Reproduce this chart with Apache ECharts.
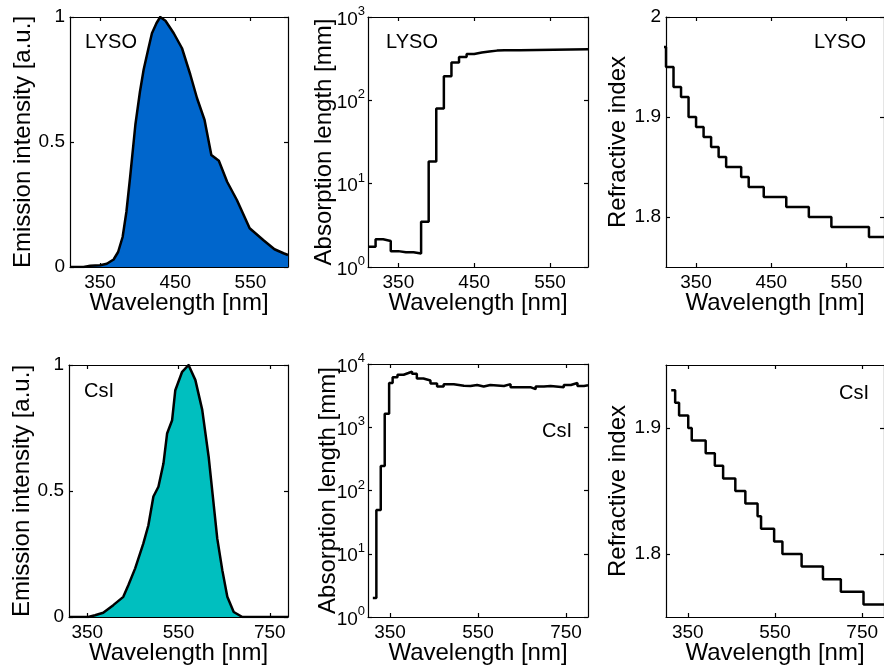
<!DOCTYPE html>
<html>
<head>
<meta charset="utf-8">
<title>Scintillator optical properties</title>
<script src="https://cdn.jsdelivr.net/npm/echarts@6/dist/echarts.min.js"></script>
<style>
  html, body { margin: 0; padding: 0; background: #fff; }
  #chart { width: 884px; height: 672px; }
</style>
</head>
<body>
<div id="chart"></div>
<script>
// ---- LYSO ----
const lysoEmWl  = [310, 328, 337, 350, 359, 368, 374, 380, 385, 390, 397, 403, 408, 414, 419, 425, 430, 437, 448, 459, 470, 479, 489, 498, 508, 519, 532, 549, 567, 582, 594, 600];
const lysoEmVal = [0, 0, 0.005, 0.007, 0.013, 0.03, 0.06, 0.12, 0.22, 0.36, 0.57, 0.70, 0.79, 0.87, 0.935, 0.975, 1.0, 0.985, 0.935, 0.875, 0.77, 0.675, 0.588, 0.448, 0.425, 0.341, 0.268, 0.155, 0.108, 0.071, 0.055, 0.048];

const lysoAbsWl  = [310, 320, 330, 340, 350, 360, 370, 380, 390, 400, 410, 420, 430, 440, 450, 460, 470, 480, 490, 500, 510, 600];
const lysoAbsVal = [1.75, 2.15, 2.05, 1.55, 1.5, 1.5, 1.45, 3.5, 18.5, 80, 195, 285, 330, 360, 375, 385, 395, 400, 400, 400, 410, 410];

const lysoRiWl  = [300, 310, 320, 330, 340, 350, 360, 370, 380, 390, 410, 420, 440, 470, 500, 530, 580, 600];
const lysoRiVal = [1.97, 1.95, 1.93, 1.92, 1.90, 1.89, 1.88, 1.87, 1.86, 1.85, 1.84, 1.83, 1.82, 1.81, 1.80, 1.79, 1.78, 1.78];

// ---- CsI ----
const csiEmWl  = [310, 352, 367, 385, 407, 429, 440, 455, 473, 484, 495, 506, 517, 525, 536, 543, 558, 572, 587, 602, 616, 635, 646, 657, 671, 690, 790];
const csiEmVal = [0, 0, 0.007, 0.017, 0.047, 0.08, 0.126, 0.193, 0.292, 0.364, 0.478, 0.517, 0.609, 0.728, 0.781, 0.90, 0.973, 1.0, 0.94, 0.822, 0.637, 0.311, 0.186, 0.08, 0.02, 0, 0];

const csiAbsWl  = [311, 319, 329, 338, 348, 356, 367, 381, 392, 400, 411, 426, 442, 457, 472, 495, 518, 533, 548, 563, 578, 609, 624, 654, 669, 681, 700, 715, 745, 761, 776, 791, 800];
const csiAbsVal = [2, 49, 245, 1630, 5000, 6200, 6750, 7200, 7600, 7000, 5900, 5500, 4900, 4400, 4800, 4530, 4500, 4650, 4400, 4650, 4500, 4800, 4300, 4300, 4000, 4400, 4500, 4300, 4650, 5000, 4500, 4600, 4600];

const csiRiWl  = [312, 321, 330, 351, 359, 391, 412, 431, 459, 482, 510, 518, 548, 567, 611, 660, 701, 753, 800];
const csiRiVal = [1.93, 1.92, 1.91, 1.90, 1.89, 1.88, 1.87, 1.86, 1.85, 1.84, 1.83, 1.82, 1.81, 1.80, 1.79, 1.78, 1.77, 1.76, 1.76];

// ---- axis ticks ----
const xTicksLyso = [350, 450, 550];
const xTicksCsi  = [350, 550, 750];
const yTicksEm   = [0, 0.5, 1];
const yTicksRiLyso = [1.8, 1.9, 2];
const yTicksRiCsi  = [1.8, 1.9];

const FONT = '"Liberation Sans", Arial, Helvetica, sans-serif';
const BLACK = '#000';
const LYSO_FILL = '#0066cc';
const CSI_FILL = '#00bfbf';
const NAME_SIZE = 24;

const pairs = (xs, ys) => xs.map((x, i) => [x, ys[i]]);

// plotting boxes (pixels)
const boxes = [
  { left: 70,  top: 17,  width: 218, height: 250 },
  { left: 368, top: 17,  width: 220, height: 250 },
  { left: 666, top: 17,  width: 220, height: 250 },
  { left: 69,  top: 365, width: 219, height: 252 },
  { left: 368, top: 364, width: 220, height: 253 },
  { left: 666, top: 365, width: 220, height: 252 }
];

const lineStyle = { color: BLACK, width: 1.2 };

function xAxes(g, min, max, ticks) {
  const common = {
    type: 'value', gridIndex: g, min, max,
    axisLine: { show: true, onZero: false, lineStyle },
    axisTick: { show: true, inside: true, length: 4, customValues: ticks, lineStyle },
    splitLine: { show: false }
  };
  return [
    Object.assign({}, common, {
      position: 'bottom',
      axisLabel: { customValues: ticks, color: BLACK, fontSize: 19, fontFamily: FONT, margin: 6 },
      name: 'Wavelength [nm]', nameLocation: 'middle', nameGap: 24, nameMoveOverlap: false,
      nameTextStyle: { fontSize: NAME_SIZE, color: BLACK, fontFamily: FONT }
    }),
    Object.assign({}, common, { position: 'top', axisLabel: { show: false } })
  ];
}

function yAxesLinear(g, min, max, ticks, name, gap) {
  const common = {
    type: 'value', gridIndex: g, min, max,
    axisLine: { show: true, onZero: false, lineStyle },
    axisTick: { show: true, inside: true, length: 4, customValues: ticks, lineStyle },
    splitLine: { show: false }
  };
  return [
    Object.assign({}, common, {
      position: 'left',
      axisLabel: { customValues: ticks, color: BLACK, fontSize: 19, fontFamily: FONT, margin: 5 },
      name, nameLocation: 'middle', nameRotate: 90, nameGap: gap, nameMoveOverlap: false,
      nameTextStyle: { fontSize: NAME_SIZE, color: BLACK, fontFamily: FONT }
    }),
    Object.assign({}, common, { position: 'right', axisLabel: { show: false } })
  ];
}

function yAxesLog(g, min, max, name, gap) {
  const common = {
    type: 'log', logBase: 10, gridIndex: g, min, max,
    axisLine: { show: true, onZero: false, lineStyle },
    axisTick: { show: true, inside: true, length: 4, lineStyle },
    splitLine: { show: false }
  };
  return [
    Object.assign({}, common, {
      position: 'left',
      axisLabel: {
        color: BLACK, margin: 3,
        formatter: v => '{b|10}{s|' + Math.round(Math.log10(v)) + '}',
        rich: {
          b: { fontSize: 19, fontFamily: FONT, color: BLACK, lineHeight: 24, verticalAlign: 'bottom' },
          s: { fontSize: 13, fontFamily: FONT, color: BLACK, verticalAlign: 'top' }
        }
      },
      name, nameLocation: 'middle', nameRotate: 90, nameGap: gap, nameMoveOverlap: false,
      nameTextStyle: { fontSize: NAME_SIZE, color: BLACK, fontFamily: FONT }
    }),
    Object.assign({}, common, { position: 'right', axisLabel: { show: false } })
  ];
}

const xAxis = [].concat(
  xAxes(0, 310, 600, xTicksLyso),
  xAxes(1, 310, 600, xTicksLyso),
  xAxes(2, 310, 600, xTicksLyso),
  xAxes(3, 310, 790, xTicksCsi),
  xAxes(4, 300, 800, xTicksCsi),
  xAxes(5, 300, 800, xTicksCsi)
);

const yAxis = [].concat(
  yAxesLinear(0, 0, 1, yTicksEm, 'Emission intensity [a.u.]', 35),
  yAxesLog(1, 1, 1000, 'Absorption length [mm]', 32),
  yAxesLinear(2, 1.75, 2, yTicksRiLyso, 'Refractive index', 36),
  yAxesLinear(3, 0, 1, yTicksEm, 'Emission intensity [a.u.]', 35),
  yAxesLog(4, 1, 10000, 'Absorption length [mm]', 28),
  yAxesLinear(5, 1.75, 1.95, yTicksRiCsi, 'Refractive index', 36)
);

function emission(g, xs, ys, fill) {
  return {
    type: 'line', xAxisIndex: 2 * g, yAxisIndex: 2 * g,
    data: pairs(xs, ys), symbol: 'none', smooth: false,
    lineStyle: { color: BLACK, width: 2.5, join: 'round' },
    itemStyle: { color: BLACK },
    areaStyle: { color: fill, opacity: 1 }
  };
}

function stairs(g, xs, ys) {
  return {
    type: 'line', xAxisIndex: 2 * g, yAxisIndex: 2 * g,
    data: pairs(xs, ys), symbol: 'none', step: 'end', clip: true,
    lineStyle: { color: BLACK, width: 2.5 },
    itemStyle: { color: BLACK }
  };
}

function tag(text, x, y) {
  return {
    type: 'text', x, y, z: 100,
    style: { text, align: 'center', verticalAlign: 'middle', fontSize: 20, fontFamily: FONT, fill: BLACK }
  };
}

const option = {
  backgroundColor: '#fff',
  animation: false,
  grid: boxes.map(b => Object.assign({ containLabel: false }, b)),
  xAxis,
  yAxis,
  series: [
    emission(0, lysoEmWl, lysoEmVal, LYSO_FILL),
    stairs(1, lysoAbsWl, lysoAbsVal),
    stairs(2, lysoRiWl, lysoRiVal),
    emission(3, csiEmWl, csiEmVal, CSI_FILL),
    stairs(4, csiAbsWl, csiAbsVal),
    stairs(5, csiRiWl, csiRiVal)
  ],
  graphic: [
    tag('LYSO', 111, 42),
    tag('LYSO', 412, 42),
    tag('LYSO', 840, 42),
    tag('CsI', 99, 391),
    tag('CsI', 557, 431),
    tag('CsI', 854, 393)
  ]
};

const chart = echarts.init(document.getElementById('chart'), null, { renderer: 'canvas' });
chart.setOption(option);
</script>
</body>
</html>
